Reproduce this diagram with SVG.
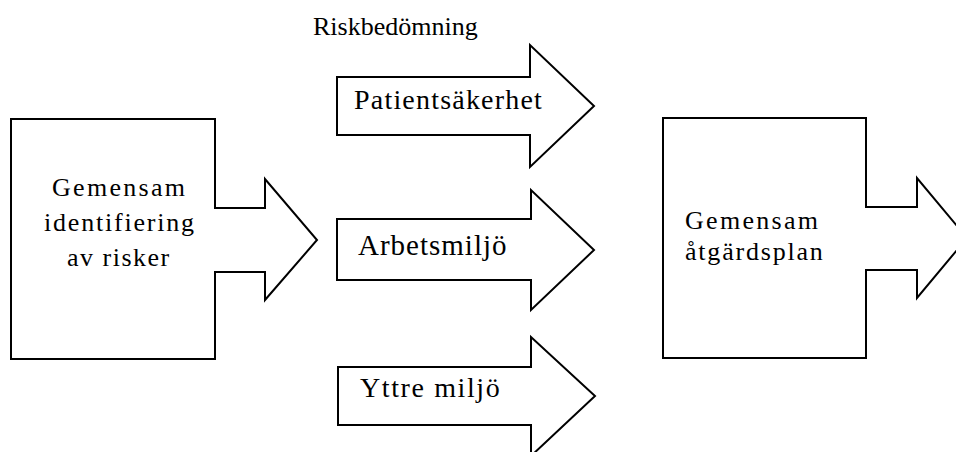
<svg xmlns="http://www.w3.org/2000/svg" width="956" height="452" viewBox="0 0 956 452">
<style>
  .shape { fill: #ffffff; stroke: #000000; stroke-width: 2; stroke-linejoin: miter; }
  text { font-family: "Liberation Serif", "Times New Roman", serif; fill: #000000; }
</style>
<rect x="0" y="0" width="956" height="452" fill="#ffffff"/>

<g id="title">
  <text x="313" y="35" font-size="26">Riskbedömning</text>
</g>

<g id="node-identifiering">
  <path class="shape" d="M11,119 H215 V208 H265 V179 L317,240 L265,300 V272 H215 V359 H11 Z"/>
  <text x="52" y="196" font-size="26" letter-spacing="2.3">Gemensam</text>
  <text x="44" y="231" font-size="26" letter-spacing="1.8">identifiering</text>
  <text x="67" y="266" font-size="26" letter-spacing="1.5">av risker</text>
</g>

<g id="node-patientsakerhet">
  <path class="shape" d="M337,77 H530 V45 L594,106 L530,167 V135 H337 Z"/>
  <text x="354" y="109" font-size="28" letter-spacing="1.2">Patientsäkerhet</text>
</g>

<g id="node-arbetsmiljo">
  <path class="shape" d="M337,219 H531 V190 L594,250 L531,310 V280 H337 Z"/>
  <text x="358" y="255" font-size="29" letter-spacing="1">Arbetsmiljö</text>
</g>

<g id="node-yttremiljo">
  <path class="shape" d="M338,367 H531 V337 L595,396 L531,456 V425 H338 Z"/>
  <text x="360" y="397" font-size="28" letter-spacing="1.6">Yttre miljö</text>
</g>

<g id="node-atgardsplan">
  <path class="shape" d="M663,118 H866 V207 H917 V178 L967,238 L917,298 V270 H866 V358 H663 Z"/>
  <text x="685" y="229" font-size="26" letter-spacing="2.3">Gemensam</text>
  <text x="685" y="260" font-size="26" letter-spacing="1.8">åtgärdsplan</text>
</g>

<g id="connectors"></g>
</svg>
